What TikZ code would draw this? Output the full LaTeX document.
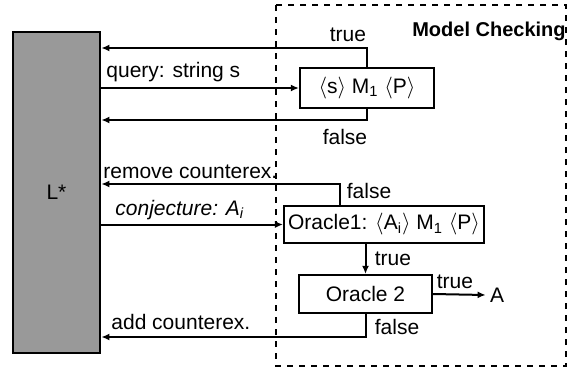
\documentclass[tikz,border=0pt]{standalone}
\usepackage{fontspec}
\setmainfont{Liberation Sans}
\usetikzlibrary{positioning,calc,arrows.meta}

\begin{document}
\begin{tikzpicture}[x=0.5pt,y=-0.5pt,
        box/.style={draw, line width=1.1pt, inner sep=2pt, font=\fontsize{10.5}{12}\selectfont},
        arr/.style={-{Latex[length=4pt,width=3.5pt]}, line width=1pt},
        lbl/.style={font=\fontsize{10.5}{12}\selectfont, inner sep=1pt}]
        \useasboundingbox (0,0) rectangle (568,376);
        % Learner
        \node[draw, line width=1.4pt, fill=black!40, minimum width=43.5pt, minimum height=160.5pt,
              font=\fontsize{10.5}{12}\selectfont] (lstar) at (56.5,192.5) {L*};
        % Model checking frame
        \draw[line width=1.1pt, dash pattern=on 3pt off 3pt] (276,5) rectangle (566,366);
        \node[font=\bfseries\fontsize{10}{12}\selectfont] at (489,31) {Model Checking};
        % Checker boxes
        \node[box, minimum width=67pt, minimum height=20pt] (mc) at (367,88)
            {$\langle$s$\rangle$ M\textsubscript{1} $\langle$P$\rangle$};
        \node[box, minimum width=98pt, minimum height=18.5pt] (o1) at (384,224.5)
            {Oracle1: $\langle$A\textsubscript{i}$\rangle$ M\textsubscript{1} $\langle$P$\rangle$};
        \node[box, minimum width=66.5pt, minimum height=19pt] (o2) at (365.5,294) {Oracle 2};
        \node[lbl, inner sep=2pt] (a) at (497,295) {A};

        % Connectors
        \draw[arr] (mc.north) |- (lstar.east |- 0,48);
        \draw[arr] (lstar.east |- mc.west) -- (mc.west);
        \draw[arr] (mc.south) |- (lstar.east |- 0,120);
        \draw[arr] (o1.north -| 340,0) |- (lstar.east |- 0,184);
        \draw[arr] (lstar.east |- o1.west) -- (o1.west);
        \draw[arr] (o1.south -| o2.north) -- (o2.north);
        \draw[arr] (o2.east) -- (a.west);
        \draw[arr] (o2.south) |- (lstar.east |- 0,337);

        % Labels
        \node[lbl] at (348,35) {true};
        \node[lbl, anchor=west] at (104,72) {query: string s};
        \node[lbl] at (345,137) {false};
        \node[lbl, anchor=west] at (101,172) {remove counterex.};
        \node[lbl] at (369,191) {false};
        \node[lbl, anchor=west, font=\itshape\fontsize{10.5}{12}\selectfont] at (113,210) {conjecture: A\textsubscript{i}};
        \node[lbl] at (393,259) {true};
        \node[lbl] at (455,282) {true};
        \node[lbl] at (397,327) {false};
        \node[lbl, anchor=west] at (109,322) {add counterex.};
    \end{tikzpicture}
\end{document}
